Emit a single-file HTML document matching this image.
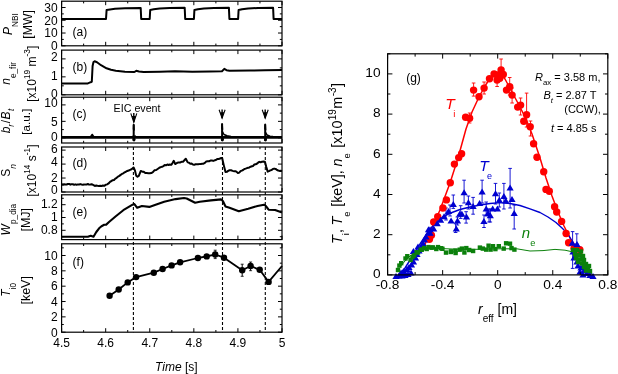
<!DOCTYPE html><html><head><meta charset="utf-8"><style>html,body{margin:0;padding:0;background:#fff;width:618px;height:374px;overflow:hidden}svg{display:block;font-family:"Liberation Sans", sans-serif;will-change:transform}</style></head><body>
<svg width="618" height="374" viewBox="0 0 618 374">
<path d="M61.60,19.00 L106.00,19.00 L106.60,10.00 L110.00,9.40 L115.00,8.80 L125.00,8.30 L140.70,8.00 L141.20,19.00 L149.70,19.00 L150.20,10.00 L153.70,9.30 L159.70,8.50 L169.70,8.00 L184.70,7.80 L185.20,19.00 L193.90,19.00 L194.40,10.00 L197.90,9.30 L203.90,8.50 L213.90,8.00 L228.90,7.80 L229.40,19.00 L238.10,19.00 L238.60,10.00 L242.10,9.30 L248.10,8.50 L258.10,8.00 L273.10,7.80 L273.60,19.00 L282.00,19.00" fill="none" stroke="#000" stroke-width="2.0" stroke-linejoin="round" />
<path d="M61.60,83.40 L87.90,83.40 L90.70,82.20 L91.80,81.80 L92.60,66.00 L93.50,62.00 L94.60,61.30 L97.00,62.20 L101.00,65.20 L106.50,68.30 L111.00,69.80 L115.80,70.70 L125.00,71.80 L134.40,72.00 L136.30,70.80 L139.00,71.40 L143.70,72.00 L160.00,71.80 L175.00,71.30 L192.30,71.80 L210.00,71.40 L222.00,71.20 L224.30,68.90 L226.50,70.20 L229.50,70.70 L250.00,70.60 L265.00,70.20 L282.00,70.00" fill="none" stroke="#000" stroke-width="2.0" stroke-linejoin="round" />
<path d="M61.60,137.35 L282.00,137.35" fill="none" stroke="#000" stroke-width="2.7" stroke-linejoin="round" />
<path d="M133.70,124.50 L133.70,141.00" fill="none" stroke="#000" stroke-width="2.0" stroke-linejoin="round" />
<ellipse cx="134.00" cy="139.3" rx="1.5" ry="2.3" fill="#000"/>
<path d="M133.50,129.50 L133.70,124.50 L134.10,130.50" fill="none" stroke="#000" stroke-width="1.6" stroke-linejoin="round" />
<path d="M222.10,123.70 L222.10,141.00" fill="none" stroke="#000" stroke-width="2.0" stroke-linejoin="round" />
<ellipse cx="222.40" cy="139.3" rx="1.5" ry="2.3" fill="#000"/>
<path d="M221.90,128.70 L222.10,123.70 L222.50,129.70" fill="none" stroke="#000" stroke-width="1.6" stroke-linejoin="round" />
<path d="M265.20,124.30 L265.20,141.00" fill="none" stroke="#000" stroke-width="2.0" stroke-linejoin="round" />
<ellipse cx="265.50" cy="139.3" rx="1.5" ry="2.3" fill="#000"/>
<path d="M265.00,129.30 L265.20,124.30 L265.60,130.30" fill="none" stroke="#000" stroke-width="1.6" stroke-linejoin="round" />
<path d="M222.10,131.00 L224.00,134.50 L227.00,135.80 L231.00,136.50 L234.00,136.80" fill="none" stroke="#000" stroke-width="1.5" stroke-linejoin="round" />
<path d="M265.20,132.00 L267.00,135.00 L270.00,136.20 L273.00,136.50" fill="none" stroke="#000" stroke-width="1.5" stroke-linejoin="round" />
<path d="M132.50,136.20 L136.00,136.20" fill="none" stroke="#000" stroke-width="1.5" stroke-linejoin="round" />
<path d="M90.30,137.30 L92.20,134.50 L94.10,137.30" fill="none" stroke="#000" stroke-width="1.6" stroke-linejoin="round" />
<path d="M130.80,113.40 L133.80,122.30 L136.80,113.40" fill="none" stroke="#000" stroke-width="1.1"/>
<path d="M131.80,116.00 L135.80,116.00 L133.80,122.30 Z" fill="#000"/>
<line x1="133.80" y1="113.10" x2="133.80" y2="122.30" stroke="#000" stroke-width="1.4" />
<path d="M219.10,109.70 L222.10,118.20 L225.10,109.70" fill="none" stroke="#000" stroke-width="1.1"/>
<path d="M220.10,112.30 L224.10,112.30 L222.10,118.20 Z" fill="#000"/>
<line x1="222.10" y1="109.40" x2="222.10" y2="118.20" stroke="#000" stroke-width="1.4" />
<path d="M262.20,109.70 L265.20,118.20 L268.20,109.70" fill="none" stroke="#000" stroke-width="1.1"/>
<path d="M263.20,112.30 L267.20,112.30 L265.20,118.20 Z" fill="#000"/>
<line x1="265.20" y1="109.40" x2="265.20" y2="118.20" stroke="#000" stroke-width="1.4" />
<text x="113.60" y="111.80" font-size="10.7" text-anchor="start" >EIC event</text>
<path d="M61.60,184.16 L62.85,184.44 L64.10,184.28 L65.35,184.49 L66.60,184.51 L67.85,184.01 L69.10,183.96 L70.35,184.70 L71.60,184.18 L72.85,184.16 L74.10,184.85 L75.35,184.37 L76.60,184.70 L77.85,184.38 L79.10,184.53 L80.35,184.09 L81.60,184.52 L82.85,184.73 L84.10,184.42 L85.35,184.62 L86.60,184.55 L87.85,184.01 L89.10,184.63 L90.35,184.48 L91.60,184.22 L93.50,185.18 L94.85,185.93 L96.20,185.58 L97.55,185.80 L98.90,185.94 L100.25,185.79 L101.60,185.98 L102.95,185.51 L104.30,185.87 L105.72,184.73 L107.15,184.34 L108.58,183.47 L110.00,181.94 L111.33,181.06 L112.67,180.21 L114.00,179.97 L115.33,178.58 L116.67,177.83 L118.00,176.62 L119.32,175.91 L120.63,174.90 L121.95,173.97 L123.27,173.28 L124.58,172.38 L125.90,171.76 L127.27,170.93 L128.63,170.52 L130.00,169.82 L131.50,169.24 L133.00,168.10 L133.60,167.45 L135.00,170.70 L136.20,175.62 L137.50,176.72 L138.80,175.86 L140.80,170.96 L142.30,171.69 L143.80,171.84 L145.30,173.00 L146.80,173.10 L148.30,173.17 L149.80,173.31 L151.33,173.02 L152.87,172.14 L154.40,170.33 L156.20,170.02 L158.00,168.72 L159.35,167.74 L160.70,167.11 L162.05,166.79 L163.40,166.14 L164.70,165.09 L166.00,165.30 L167.30,164.49 L168.60,164.96 L169.90,164.48 L171.20,164.84 L172.50,163.08 L173.80,160.80 L175.30,164.05 L176.87,163.03 L178.43,162.42 L180.00,162.49 L181.50,161.83 L183.00,161.83 L184.40,160.27 L185.80,158.70 L187.70,162.39 L189.00,162.65 L190.30,163.75 L191.60,163.61 L192.90,164.55 L194.20,164.86 L195.53,164.26 L196.86,164.21 L198.19,164.13 L199.51,164.12 L200.84,163.94 L202.17,163.78 L203.50,163.71 L204.90,162.90 L206.30,161.41 L207.70,161.15 L209.10,161.23 L210.50,160.61 L211.90,160.49 L213.30,160.91 L214.70,160.32 L215.93,159.96 L217.17,159.09 L218.40,159.07 L219.63,158.84 L220.87,157.95 L222.10,158.10 L223.80,165.37 L225.50,172.10 L226.83,171.81 L228.17,170.87 L229.50,170.26 L231.07,170.27 L232.63,170.89 L234.20,171.21 L235.43,171.20 L236.67,171.87 L237.90,173.06 L239.20,172.58 L240.50,171.20 L241.80,170.64 L243.10,170.02 L244.40,169.04 L245.65,168.61 L246.90,168.10 L248.15,167.68 L249.40,167.42 L250.65,166.69 L251.90,166.29 L253.13,165.93 L254.37,164.54 L255.60,164.31 L256.83,163.74 L258.07,162.65 L259.30,161.85 L260.70,162.27 L262.10,161.66 L263.50,161.52 L264.90,161.64 L266.30,167.03 L267.70,171.64 L269.00,171.10 L270.30,170.37 L271.60,170.08 L272.90,168.98 L274.20,168.62 L275.60,168.90 L277.00,169.95 L278.25,170.46 L279.50,170.90 L280.75,170.73 L282.00,171.00" fill="none" stroke="#000" stroke-width="2.0" stroke-linejoin="round" />
<path d="M61.60,236.70 L87.90,236.70 L90.70,235.70 L93.50,236.70 L96.30,232.00 L99.10,228.30 L101.50,226.20 L104.20,224.80 L106.20,224.60 L109.30,221.80 L115.80,216.20 L123.30,210.20 L132.60,204.70 L134.40,204.10 L137.20,207.80 L141.90,206.00 L149.30,206.90 L154.90,205.00 L164.20,201.70 L175.60,199.10 L184.00,198.00 L186.70,198.50 L195.10,202.80 L199.80,201.70 L210.90,200.40 L221.20,199.40 L223.00,201.30 L225.50,206.50 L229.50,207.80 L238.80,211.20 L248.20,208.70 L257.50,206.00 L264.00,204.70 L265.80,206.00 L268.60,209.70 L275.10,210.00 L282.00,212.50" fill="none" stroke="#000" stroke-width="2.1" stroke-linejoin="round" />
<path d="M109.60,295.80 L118.70,289.50 L127.70,282.40 L136.10,277.10 L153.80,272.70 L162.60,269.00 L171.60,265.40 L180.10,262.30 L197.90,258.00 L206.70,256.40 L215.20,254.50 L224.00,257.70 L242.20,270.30 L250.60,266.00 L259.70,269.80 L268.60,281.90 L282.00,266.00" fill="none" stroke="#000" stroke-width="1.8" stroke-linejoin="round" />
<circle cx="109.60" cy="295.80" r="3.2" fill="#000"/>
<circle cx="118.70" cy="289.50" r="3.2" fill="#000"/>
<circle cx="127.70" cy="282.40" r="3.2" fill="#000"/>
<circle cx="136.10" cy="277.10" r="3.2" fill="#000"/>
<circle cx="153.80" cy="272.70" r="3.2" fill="#000"/>
<circle cx="162.60" cy="269.00" r="3.2" fill="#000"/>
<circle cx="171.60" cy="265.40" r="3.2" fill="#000"/>
<circle cx="180.10" cy="262.30" r="3.2" fill="#000"/>
<circle cx="197.90" cy="258.00" r="3.2" fill="#000"/>
<circle cx="206.70" cy="256.40" r="3.2" fill="#000"/>
<circle cx="215.20" cy="254.50" r="3.2" fill="#000"/>
<circle cx="224.00" cy="257.70" r="3.2" fill="#000"/>
<circle cx="242.20" cy="270.30" r="3.2" fill="#000"/>
<circle cx="250.60" cy="266.00" r="3.2" fill="#000"/>
<circle cx="259.70" cy="269.80" r="3.2" fill="#000"/>
<circle cx="268.60" cy="281.90" r="3.2" fill="#000"/>
<line x1="215.20" y1="250.20" x2="215.20" y2="258.60" stroke="#000" stroke-width="1.0" />
<line x1="213.70" y1="250.20" x2="216.70" y2="250.20" stroke="#000" stroke-width="0.8" />
<line x1="213.70" y1="258.60" x2="216.70" y2="258.60" stroke="#000" stroke-width="0.8" />
<line x1="242.20" y1="264.20" x2="242.20" y2="276.30" stroke="#000" stroke-width="1.0" />
<line x1="240.70" y1="264.20" x2="243.70" y2="264.20" stroke="#000" stroke-width="0.8" />
<line x1="240.70" y1="276.30" x2="243.70" y2="276.30" stroke="#000" stroke-width="0.8" />
<line x1="250.60" y1="262.00" x2="250.60" y2="270.70" stroke="#000" stroke-width="1.0" />
<line x1="249.10" y1="262.00" x2="252.10" y2="262.00" stroke="#000" stroke-width="0.8" />
<line x1="249.10" y1="270.70" x2="252.10" y2="270.70" stroke="#000" stroke-width="0.8" />
<line x1="133.40" y1="147.00" x2="133.40" y2="332.20" stroke="#000" stroke-width="1.1" stroke-dasharray="3,2"/>
<line x1="222.50" y1="147.00" x2="222.50" y2="332.20" stroke="#000" stroke-width="1.1" stroke-dasharray="3,2"/>
<line x1="265.30" y1="147.00" x2="265.30" y2="332.20" stroke="#000" stroke-width="1.1" stroke-dasharray="3,2"/>
<rect x="61.60" y="1.20" width="220.40" height="44.60" fill="none" stroke="#000" stroke-width="1.2"/>
<line x1="61.60" y1="45.80" x2="65.60" y2="45.80" stroke="#000" stroke-width="1.0" />
<line x1="282.00" y1="45.80" x2="278.00" y2="45.80" stroke="#000" stroke-width="1.0" />
<line x1="61.60" y1="39.41" x2="63.80" y2="39.41" stroke="#000" stroke-width="1.0" />
<line x1="282.00" y1="39.41" x2="279.80" y2="39.41" stroke="#000" stroke-width="1.0" />
<line x1="61.60" y1="33.03" x2="65.60" y2="33.03" stroke="#000" stroke-width="1.0" />
<line x1="282.00" y1="33.03" x2="278.00" y2="33.03" stroke="#000" stroke-width="1.0" />
<line x1="61.60" y1="26.64" x2="63.80" y2="26.64" stroke="#000" stroke-width="1.0" />
<line x1="282.00" y1="26.64" x2="279.80" y2="26.64" stroke="#000" stroke-width="1.0" />
<line x1="61.60" y1="20.26" x2="65.60" y2="20.26" stroke="#000" stroke-width="1.0" />
<line x1="282.00" y1="20.26" x2="278.00" y2="20.26" stroke="#000" stroke-width="1.0" />
<line x1="61.60" y1="13.88" x2="63.80" y2="13.88" stroke="#000" stroke-width="1.0" />
<line x1="282.00" y1="13.88" x2="279.80" y2="13.88" stroke="#000" stroke-width="1.0" />
<line x1="61.60" y1="7.49" x2="65.60" y2="7.49" stroke="#000" stroke-width="1.0" />
<line x1="282.00" y1="7.49" x2="278.00" y2="7.49" stroke="#000" stroke-width="1.0" />
<line x1="61.60" y1="45.80" x2="61.60" y2="41.80" stroke="#000" stroke-width="1.0" />
<line x1="61.60" y1="1.20" x2="61.60" y2="5.20" stroke="#000" stroke-width="1.0" />
<line x1="83.64" y1="45.80" x2="83.64" y2="43.60" stroke="#000" stroke-width="1.0" />
<line x1="83.64" y1="1.20" x2="83.64" y2="3.40" stroke="#000" stroke-width="1.0" />
<line x1="105.68" y1="45.80" x2="105.68" y2="41.80" stroke="#000" stroke-width="1.0" />
<line x1="105.68" y1="1.20" x2="105.68" y2="5.20" stroke="#000" stroke-width="1.0" />
<line x1="127.72" y1="45.80" x2="127.72" y2="43.60" stroke="#000" stroke-width="1.0" />
<line x1="127.72" y1="1.20" x2="127.72" y2="3.40" stroke="#000" stroke-width="1.0" />
<line x1="149.76" y1="45.80" x2="149.76" y2="41.80" stroke="#000" stroke-width="1.0" />
<line x1="149.76" y1="1.20" x2="149.76" y2="5.20" stroke="#000" stroke-width="1.0" />
<line x1="171.80" y1="45.80" x2="171.80" y2="43.60" stroke="#000" stroke-width="1.0" />
<line x1="171.80" y1="1.20" x2="171.80" y2="3.40" stroke="#000" stroke-width="1.0" />
<line x1="193.84" y1="45.80" x2="193.84" y2="41.80" stroke="#000" stroke-width="1.0" />
<line x1="193.84" y1="1.20" x2="193.84" y2="5.20" stroke="#000" stroke-width="1.0" />
<line x1="215.88" y1="45.80" x2="215.88" y2="43.60" stroke="#000" stroke-width="1.0" />
<line x1="215.88" y1="1.20" x2="215.88" y2="3.40" stroke="#000" stroke-width="1.0" />
<line x1="237.92" y1="45.80" x2="237.92" y2="41.80" stroke="#000" stroke-width="1.0" />
<line x1="237.92" y1="1.20" x2="237.92" y2="5.20" stroke="#000" stroke-width="1.0" />
<line x1="259.96" y1="45.80" x2="259.96" y2="43.60" stroke="#000" stroke-width="1.0" />
<line x1="259.96" y1="1.20" x2="259.96" y2="3.40" stroke="#000" stroke-width="1.0" />
<line x1="282.00" y1="45.80" x2="282.00" y2="41.80" stroke="#000" stroke-width="1.0" />
<line x1="282.00" y1="1.20" x2="282.00" y2="5.20" stroke="#000" stroke-width="1.0" />
<text x="57.60" y="50.10" font-size="12" text-anchor="end" >0</text>
<text x="57.60" y="37.33" font-size="12" text-anchor="end" >10</text>
<text x="57.60" y="24.56" font-size="12" text-anchor="end" >20</text>
<text x="57.60" y="11.79" font-size="12" text-anchor="end" >30</text>
<rect x="61.60" y="50.10" width="220.40" height="44.70" fill="none" stroke="#000" stroke-width="1.2"/>
<line x1="61.60" y1="94.80" x2="65.60" y2="94.80" stroke="#000" stroke-width="1.0" />
<line x1="282.00" y1="94.80" x2="278.00" y2="94.80" stroke="#000" stroke-width="1.0" />
<line x1="61.60" y1="85.83" x2="63.80" y2="85.83" stroke="#000" stroke-width="1.0" />
<line x1="282.00" y1="85.83" x2="279.80" y2="85.83" stroke="#000" stroke-width="1.0" />
<line x1="61.60" y1="76.85" x2="65.60" y2="76.85" stroke="#000" stroke-width="1.0" />
<line x1="282.00" y1="76.85" x2="278.00" y2="76.85" stroke="#000" stroke-width="1.0" />
<line x1="61.60" y1="67.88" x2="63.80" y2="67.88" stroke="#000" stroke-width="1.0" />
<line x1="282.00" y1="67.88" x2="279.80" y2="67.88" stroke="#000" stroke-width="1.0" />
<line x1="61.60" y1="58.90" x2="65.60" y2="58.90" stroke="#000" stroke-width="1.0" />
<line x1="282.00" y1="58.90" x2="278.00" y2="58.90" stroke="#000" stroke-width="1.0" />
<line x1="61.60" y1="94.80" x2="61.60" y2="90.80" stroke="#000" stroke-width="1.0" />
<line x1="61.60" y1="50.10" x2="61.60" y2="54.10" stroke="#000" stroke-width="1.0" />
<line x1="83.64" y1="94.80" x2="83.64" y2="92.60" stroke="#000" stroke-width="1.0" />
<line x1="83.64" y1="50.10" x2="83.64" y2="52.30" stroke="#000" stroke-width="1.0" />
<line x1="105.68" y1="94.80" x2="105.68" y2="90.80" stroke="#000" stroke-width="1.0" />
<line x1="105.68" y1="50.10" x2="105.68" y2="54.10" stroke="#000" stroke-width="1.0" />
<line x1="127.72" y1="94.80" x2="127.72" y2="92.60" stroke="#000" stroke-width="1.0" />
<line x1="127.72" y1="50.10" x2="127.72" y2="52.30" stroke="#000" stroke-width="1.0" />
<line x1="149.76" y1="94.80" x2="149.76" y2="90.80" stroke="#000" stroke-width="1.0" />
<line x1="149.76" y1="50.10" x2="149.76" y2="54.10" stroke="#000" stroke-width="1.0" />
<line x1="171.80" y1="94.80" x2="171.80" y2="92.60" stroke="#000" stroke-width="1.0" />
<line x1="171.80" y1="50.10" x2="171.80" y2="52.30" stroke="#000" stroke-width="1.0" />
<line x1="193.84" y1="94.80" x2="193.84" y2="90.80" stroke="#000" stroke-width="1.0" />
<line x1="193.84" y1="50.10" x2="193.84" y2="54.10" stroke="#000" stroke-width="1.0" />
<line x1="215.88" y1="94.80" x2="215.88" y2="92.60" stroke="#000" stroke-width="1.0" />
<line x1="215.88" y1="50.10" x2="215.88" y2="52.30" stroke="#000" stroke-width="1.0" />
<line x1="237.92" y1="94.80" x2="237.92" y2="90.80" stroke="#000" stroke-width="1.0" />
<line x1="237.92" y1="50.10" x2="237.92" y2="54.10" stroke="#000" stroke-width="1.0" />
<line x1="259.96" y1="94.80" x2="259.96" y2="92.60" stroke="#000" stroke-width="1.0" />
<line x1="259.96" y1="50.10" x2="259.96" y2="52.30" stroke="#000" stroke-width="1.0" />
<line x1="282.00" y1="94.80" x2="282.00" y2="90.80" stroke="#000" stroke-width="1.0" />
<line x1="282.00" y1="50.10" x2="282.00" y2="54.10" stroke="#000" stroke-width="1.0" />
<text x="57.60" y="97.50" font-size="12" text-anchor="end" >0</text>
<text x="57.60" y="79.85" font-size="12" text-anchor="end" >1</text>
<text x="57.60" y="60.70" font-size="12" text-anchor="end" >2</text>
<rect x="61.60" y="97.20" width="220.40" height="45.80" fill="none" stroke="#000" stroke-width="1.2"/>
<line x1="61.60" y1="137.80" x2="65.60" y2="137.80" stroke="#000" stroke-width="1.0" />
<line x1="282.00" y1="137.80" x2="278.00" y2="137.80" stroke="#000" stroke-width="1.0" />
<line x1="61.60" y1="129.58" x2="63.80" y2="129.58" stroke="#000" stroke-width="1.0" />
<line x1="282.00" y1="129.58" x2="279.80" y2="129.58" stroke="#000" stroke-width="1.0" />
<line x1="61.60" y1="121.35" x2="65.60" y2="121.35" stroke="#000" stroke-width="1.0" />
<line x1="282.00" y1="121.35" x2="278.00" y2="121.35" stroke="#000" stroke-width="1.0" />
<line x1="61.60" y1="113.13" x2="63.80" y2="113.13" stroke="#000" stroke-width="1.0" />
<line x1="282.00" y1="113.13" x2="279.80" y2="113.13" stroke="#000" stroke-width="1.0" />
<line x1="61.60" y1="104.90" x2="65.60" y2="104.90" stroke="#000" stroke-width="1.0" />
<line x1="282.00" y1="104.90" x2="278.00" y2="104.90" stroke="#000" stroke-width="1.0" />
<line x1="61.60" y1="143.00" x2="61.60" y2="139.00" stroke="#000" stroke-width="1.0" />
<line x1="61.60" y1="97.20" x2="61.60" y2="101.20" stroke="#000" stroke-width="1.0" />
<line x1="83.64" y1="143.00" x2="83.64" y2="140.80" stroke="#000" stroke-width="1.0" />
<line x1="83.64" y1="97.20" x2="83.64" y2="99.40" stroke="#000" stroke-width="1.0" />
<line x1="105.68" y1="143.00" x2="105.68" y2="139.00" stroke="#000" stroke-width="1.0" />
<line x1="105.68" y1="97.20" x2="105.68" y2="101.20" stroke="#000" stroke-width="1.0" />
<line x1="127.72" y1="143.00" x2="127.72" y2="140.80" stroke="#000" stroke-width="1.0" />
<line x1="127.72" y1="97.20" x2="127.72" y2="99.40" stroke="#000" stroke-width="1.0" />
<line x1="149.76" y1="143.00" x2="149.76" y2="139.00" stroke="#000" stroke-width="1.0" />
<line x1="149.76" y1="97.20" x2="149.76" y2="101.20" stroke="#000" stroke-width="1.0" />
<line x1="171.80" y1="143.00" x2="171.80" y2="140.80" stroke="#000" stroke-width="1.0" />
<line x1="171.80" y1="97.20" x2="171.80" y2="99.40" stroke="#000" stroke-width="1.0" />
<line x1="193.84" y1="143.00" x2="193.84" y2="139.00" stroke="#000" stroke-width="1.0" />
<line x1="193.84" y1="97.20" x2="193.84" y2="101.20" stroke="#000" stroke-width="1.0" />
<line x1="215.88" y1="143.00" x2="215.88" y2="140.80" stroke="#000" stroke-width="1.0" />
<line x1="215.88" y1="97.20" x2="215.88" y2="99.40" stroke="#000" stroke-width="1.0" />
<line x1="237.92" y1="143.00" x2="237.92" y2="139.00" stroke="#000" stroke-width="1.0" />
<line x1="237.92" y1="97.20" x2="237.92" y2="101.20" stroke="#000" stroke-width="1.0" />
<line x1="259.96" y1="143.00" x2="259.96" y2="140.80" stroke="#000" stroke-width="1.0" />
<line x1="259.96" y1="97.20" x2="259.96" y2="99.40" stroke="#000" stroke-width="1.0" />
<line x1="282.00" y1="143.00" x2="282.00" y2="139.00" stroke="#000" stroke-width="1.0" />
<line x1="282.00" y1="97.20" x2="282.00" y2="101.20" stroke="#000" stroke-width="1.0" />
<text x="57.60" y="141.10" font-size="12" text-anchor="end" >0</text>
<text x="57.60" y="126.25" font-size="12" text-anchor="end" >5</text>
<text x="57.60" y="107.40" font-size="12" text-anchor="end" >10</text>
<rect x="61.60" y="147.00" width="220.40" height="45.00" fill="none" stroke="#000" stroke-width="1.2"/>
<line x1="61.60" y1="192.00" x2="65.60" y2="192.00" stroke="#000" stroke-width="1.0" />
<line x1="282.00" y1="192.00" x2="278.00" y2="192.00" stroke="#000" stroke-width="1.0" />
<line x1="61.60" y1="185.02" x2="63.80" y2="185.02" stroke="#000" stroke-width="1.0" />
<line x1="282.00" y1="185.02" x2="279.80" y2="185.02" stroke="#000" stroke-width="1.0" />
<line x1="61.60" y1="178.04" x2="65.60" y2="178.04" stroke="#000" stroke-width="1.0" />
<line x1="282.00" y1="178.04" x2="278.00" y2="178.04" stroke="#000" stroke-width="1.0" />
<line x1="61.60" y1="171.06" x2="63.80" y2="171.06" stroke="#000" stroke-width="1.0" />
<line x1="282.00" y1="171.06" x2="279.80" y2="171.06" stroke="#000" stroke-width="1.0" />
<line x1="61.60" y1="164.08" x2="65.60" y2="164.08" stroke="#000" stroke-width="1.0" />
<line x1="282.00" y1="164.08" x2="278.00" y2="164.08" stroke="#000" stroke-width="1.0" />
<line x1="61.60" y1="157.10" x2="63.80" y2="157.10" stroke="#000" stroke-width="1.0" />
<line x1="282.00" y1="157.10" x2="279.80" y2="157.10" stroke="#000" stroke-width="1.0" />
<line x1="61.60" y1="150.12" x2="65.60" y2="150.12" stroke="#000" stroke-width="1.0" />
<line x1="282.00" y1="150.12" x2="278.00" y2="150.12" stroke="#000" stroke-width="1.0" />
<line x1="61.60" y1="192.00" x2="61.60" y2="188.00" stroke="#000" stroke-width="1.0" />
<line x1="61.60" y1="147.00" x2="61.60" y2="151.00" stroke="#000" stroke-width="1.0" />
<line x1="83.64" y1="192.00" x2="83.64" y2="189.80" stroke="#000" stroke-width="1.0" />
<line x1="83.64" y1="147.00" x2="83.64" y2="149.20" stroke="#000" stroke-width="1.0" />
<line x1="105.68" y1="192.00" x2="105.68" y2="188.00" stroke="#000" stroke-width="1.0" />
<line x1="105.68" y1="147.00" x2="105.68" y2="151.00" stroke="#000" stroke-width="1.0" />
<line x1="127.72" y1="192.00" x2="127.72" y2="189.80" stroke="#000" stroke-width="1.0" />
<line x1="127.72" y1="147.00" x2="127.72" y2="149.20" stroke="#000" stroke-width="1.0" />
<line x1="149.76" y1="192.00" x2="149.76" y2="188.00" stroke="#000" stroke-width="1.0" />
<line x1="149.76" y1="147.00" x2="149.76" y2="151.00" stroke="#000" stroke-width="1.0" />
<line x1="171.80" y1="192.00" x2="171.80" y2="189.80" stroke="#000" stroke-width="1.0" />
<line x1="171.80" y1="147.00" x2="171.80" y2="149.20" stroke="#000" stroke-width="1.0" />
<line x1="193.84" y1="192.00" x2="193.84" y2="188.00" stroke="#000" stroke-width="1.0" />
<line x1="193.84" y1="147.00" x2="193.84" y2="151.00" stroke="#000" stroke-width="1.0" />
<line x1="215.88" y1="192.00" x2="215.88" y2="189.80" stroke="#000" stroke-width="1.0" />
<line x1="215.88" y1="147.00" x2="215.88" y2="149.20" stroke="#000" stroke-width="1.0" />
<line x1="237.92" y1="192.00" x2="237.92" y2="188.00" stroke="#000" stroke-width="1.0" />
<line x1="237.92" y1="147.00" x2="237.92" y2="151.00" stroke="#000" stroke-width="1.0" />
<line x1="259.96" y1="192.00" x2="259.96" y2="189.80" stroke="#000" stroke-width="1.0" />
<line x1="259.96" y1="147.00" x2="259.96" y2="149.20" stroke="#000" stroke-width="1.0" />
<line x1="282.00" y1="192.00" x2="282.00" y2="188.00" stroke="#000" stroke-width="1.0" />
<line x1="282.00" y1="147.00" x2="282.00" y2="151.00" stroke="#000" stroke-width="1.0" />
<text x="57.60" y="194.40" font-size="12" text-anchor="end" >0</text>
<text x="57.60" y="181.64" font-size="12" text-anchor="end" >2</text>
<text x="57.60" y="166.38" font-size="12" text-anchor="end" >4</text>
<text x="57.60" y="153.02" font-size="12" text-anchor="end" >6</text>
<rect x="61.60" y="194.80" width="220.40" height="44.80" fill="none" stroke="#000" stroke-width="1.2"/>
<line x1="61.60" y1="236.70" x2="63.80" y2="236.70" stroke="#000" stroke-width="1.0" />
<line x1="282.00" y1="236.70" x2="279.80" y2="236.70" stroke="#000" stroke-width="1.0" />
<line x1="61.60" y1="230.30" x2="65.60" y2="230.30" stroke="#000" stroke-width="1.0" />
<line x1="282.00" y1="230.30" x2="278.00" y2="230.30" stroke="#000" stroke-width="1.0" />
<line x1="61.60" y1="223.90" x2="63.80" y2="223.90" stroke="#000" stroke-width="1.0" />
<line x1="282.00" y1="223.90" x2="279.80" y2="223.90" stroke="#000" stroke-width="1.0" />
<line x1="61.60" y1="217.50" x2="65.60" y2="217.50" stroke="#000" stroke-width="1.0" />
<line x1="282.00" y1="217.50" x2="278.00" y2="217.50" stroke="#000" stroke-width="1.0" />
<line x1="61.60" y1="211.10" x2="63.80" y2="211.10" stroke="#000" stroke-width="1.0" />
<line x1="282.00" y1="211.10" x2="279.80" y2="211.10" stroke="#000" stroke-width="1.0" />
<line x1="61.60" y1="204.70" x2="65.60" y2="204.70" stroke="#000" stroke-width="1.0" />
<line x1="282.00" y1="204.70" x2="278.00" y2="204.70" stroke="#000" stroke-width="1.0" />
<line x1="61.60" y1="198.30" x2="63.80" y2="198.30" stroke="#000" stroke-width="1.0" />
<line x1="282.00" y1="198.30" x2="279.80" y2="198.30" stroke="#000" stroke-width="1.0" />
<line x1="61.60" y1="239.60" x2="61.60" y2="235.60" stroke="#000" stroke-width="1.0" />
<line x1="61.60" y1="194.80" x2="61.60" y2="198.80" stroke="#000" stroke-width="1.0" />
<line x1="83.64" y1="239.60" x2="83.64" y2="237.40" stroke="#000" stroke-width="1.0" />
<line x1="83.64" y1="194.80" x2="83.64" y2="197.00" stroke="#000" stroke-width="1.0" />
<line x1="105.68" y1="239.60" x2="105.68" y2="235.60" stroke="#000" stroke-width="1.0" />
<line x1="105.68" y1="194.80" x2="105.68" y2="198.80" stroke="#000" stroke-width="1.0" />
<line x1="127.72" y1="239.60" x2="127.72" y2="237.40" stroke="#000" stroke-width="1.0" />
<line x1="127.72" y1="194.80" x2="127.72" y2="197.00" stroke="#000" stroke-width="1.0" />
<line x1="149.76" y1="239.60" x2="149.76" y2="235.60" stroke="#000" stroke-width="1.0" />
<line x1="149.76" y1="194.80" x2="149.76" y2="198.80" stroke="#000" stroke-width="1.0" />
<line x1="171.80" y1="239.60" x2="171.80" y2="237.40" stroke="#000" stroke-width="1.0" />
<line x1="171.80" y1="194.80" x2="171.80" y2="197.00" stroke="#000" stroke-width="1.0" />
<line x1="193.84" y1="239.60" x2="193.84" y2="235.60" stroke="#000" stroke-width="1.0" />
<line x1="193.84" y1="194.80" x2="193.84" y2="198.80" stroke="#000" stroke-width="1.0" />
<line x1="215.88" y1="239.60" x2="215.88" y2="237.40" stroke="#000" stroke-width="1.0" />
<line x1="215.88" y1="194.80" x2="215.88" y2="197.00" stroke="#000" stroke-width="1.0" />
<line x1="237.92" y1="239.60" x2="237.92" y2="235.60" stroke="#000" stroke-width="1.0" />
<line x1="237.92" y1="194.80" x2="237.92" y2="198.80" stroke="#000" stroke-width="1.0" />
<line x1="259.96" y1="239.60" x2="259.96" y2="237.40" stroke="#000" stroke-width="1.0" />
<line x1="259.96" y1="194.80" x2="259.96" y2="197.00" stroke="#000" stroke-width="1.0" />
<line x1="282.00" y1="239.60" x2="282.00" y2="235.60" stroke="#000" stroke-width="1.0" />
<line x1="282.00" y1="194.80" x2="282.00" y2="198.80" stroke="#000" stroke-width="1.0" />
<text x="57.60" y="233.90" font-size="12" text-anchor="end" >0.8</text>
<text x="57.60" y="221.10" font-size="12" text-anchor="end" >1</text>
<text x="57.60" y="208.30" font-size="12" text-anchor="end" >1.2</text>
<rect x="61.60" y="243.80" width="220.40" height="88.40" fill="none" stroke="#000" stroke-width="1.2"/>
<line x1="61.60" y1="332.20" x2="65.60" y2="332.20" stroke="#000" stroke-width="1.0" />
<line x1="282.00" y1="332.20" x2="278.00" y2="332.20" stroke="#000" stroke-width="1.0" />
<line x1="61.60" y1="324.53" x2="63.80" y2="324.53" stroke="#000" stroke-width="1.0" />
<line x1="282.00" y1="324.53" x2="279.80" y2="324.53" stroke="#000" stroke-width="1.0" />
<line x1="61.60" y1="316.86" x2="65.60" y2="316.86" stroke="#000" stroke-width="1.0" />
<line x1="282.00" y1="316.86" x2="278.00" y2="316.86" stroke="#000" stroke-width="1.0" />
<line x1="61.60" y1="309.19" x2="63.80" y2="309.19" stroke="#000" stroke-width="1.0" />
<line x1="282.00" y1="309.19" x2="279.80" y2="309.19" stroke="#000" stroke-width="1.0" />
<line x1="61.60" y1="301.52" x2="65.60" y2="301.52" stroke="#000" stroke-width="1.0" />
<line x1="282.00" y1="301.52" x2="278.00" y2="301.52" stroke="#000" stroke-width="1.0" />
<line x1="61.60" y1="293.85" x2="63.80" y2="293.85" stroke="#000" stroke-width="1.0" />
<line x1="282.00" y1="293.85" x2="279.80" y2="293.85" stroke="#000" stroke-width="1.0" />
<line x1="61.60" y1="286.18" x2="65.60" y2="286.18" stroke="#000" stroke-width="1.0" />
<line x1="282.00" y1="286.18" x2="278.00" y2="286.18" stroke="#000" stroke-width="1.0" />
<line x1="61.60" y1="278.51" x2="63.80" y2="278.51" stroke="#000" stroke-width="1.0" />
<line x1="282.00" y1="278.51" x2="279.80" y2="278.51" stroke="#000" stroke-width="1.0" />
<line x1="61.60" y1="270.84" x2="65.60" y2="270.84" stroke="#000" stroke-width="1.0" />
<line x1="282.00" y1="270.84" x2="278.00" y2="270.84" stroke="#000" stroke-width="1.0" />
<line x1="61.60" y1="263.17" x2="63.80" y2="263.17" stroke="#000" stroke-width="1.0" />
<line x1="282.00" y1="263.17" x2="279.80" y2="263.17" stroke="#000" stroke-width="1.0" />
<line x1="61.60" y1="255.50" x2="65.60" y2="255.50" stroke="#000" stroke-width="1.0" />
<line x1="282.00" y1="255.50" x2="278.00" y2="255.50" stroke="#000" stroke-width="1.0" />
<line x1="61.60" y1="247.83" x2="63.80" y2="247.83" stroke="#000" stroke-width="1.0" />
<line x1="282.00" y1="247.83" x2="279.80" y2="247.83" stroke="#000" stroke-width="1.0" />
<line x1="61.60" y1="332.20" x2="61.60" y2="328.20" stroke="#000" stroke-width="1.0" />
<line x1="61.60" y1="243.80" x2="61.60" y2="247.80" stroke="#000" stroke-width="1.0" />
<line x1="83.64" y1="332.20" x2="83.64" y2="330.00" stroke="#000" stroke-width="1.0" />
<line x1="83.64" y1="243.80" x2="83.64" y2="246.00" stroke="#000" stroke-width="1.0" />
<line x1="105.68" y1="332.20" x2="105.68" y2="328.20" stroke="#000" stroke-width="1.0" />
<line x1="105.68" y1="243.80" x2="105.68" y2="247.80" stroke="#000" stroke-width="1.0" />
<line x1="127.72" y1="332.20" x2="127.72" y2="330.00" stroke="#000" stroke-width="1.0" />
<line x1="127.72" y1="243.80" x2="127.72" y2="246.00" stroke="#000" stroke-width="1.0" />
<line x1="149.76" y1="332.20" x2="149.76" y2="328.20" stroke="#000" stroke-width="1.0" />
<line x1="149.76" y1="243.80" x2="149.76" y2="247.80" stroke="#000" stroke-width="1.0" />
<line x1="171.80" y1="332.20" x2="171.80" y2="330.00" stroke="#000" stroke-width="1.0" />
<line x1="171.80" y1="243.80" x2="171.80" y2="246.00" stroke="#000" stroke-width="1.0" />
<line x1="193.84" y1="332.20" x2="193.84" y2="328.20" stroke="#000" stroke-width="1.0" />
<line x1="193.84" y1="243.80" x2="193.84" y2="247.80" stroke="#000" stroke-width="1.0" />
<line x1="215.88" y1="332.20" x2="215.88" y2="330.00" stroke="#000" stroke-width="1.0" />
<line x1="215.88" y1="243.80" x2="215.88" y2="246.00" stroke="#000" stroke-width="1.0" />
<line x1="237.92" y1="332.20" x2="237.92" y2="328.20" stroke="#000" stroke-width="1.0" />
<line x1="237.92" y1="243.80" x2="237.92" y2="247.80" stroke="#000" stroke-width="1.0" />
<line x1="259.96" y1="332.20" x2="259.96" y2="330.00" stroke="#000" stroke-width="1.0" />
<line x1="259.96" y1="243.80" x2="259.96" y2="246.00" stroke="#000" stroke-width="1.0" />
<line x1="282.00" y1="332.20" x2="282.00" y2="328.20" stroke="#000" stroke-width="1.0" />
<line x1="282.00" y1="243.80" x2="282.00" y2="247.80" stroke="#000" stroke-width="1.0" />
<text x="57.60" y="336.50" font-size="12" text-anchor="end" >0</text>
<text x="57.60" y="321.16" font-size="12" text-anchor="end" >2</text>
<text x="57.60" y="305.82" font-size="12" text-anchor="end" >4</text>
<text x="57.60" y="290.48" font-size="12" text-anchor="end" >6</text>
<text x="57.60" y="275.14" font-size="12" text-anchor="end" >8</text>
<text x="57.60" y="259.80" font-size="12" text-anchor="end" >10</text>
<text x="72.60" y="35.70" font-size="12" text-anchor="start" >(a)</text>
<text x="72.60" y="70.60" font-size="12" text-anchor="start" >(b)</text>
<text x="72.60" y="118.20" font-size="12" text-anchor="start" >(c)</text>
<text x="72.60" y="166.90" font-size="12" text-anchor="start" >(d)</text>
<text x="72.60" y="215.50" font-size="12" text-anchor="start" >(e)</text>
<text x="72.60" y="265.80" font-size="12" text-anchor="start" >(f)</text>
<text x="61.60" y="346.80" font-size="12" text-anchor="middle" >4.5</text>
<text x="105.68" y="346.80" font-size="12" text-anchor="middle" >4.6</text>
<text x="149.76" y="346.80" font-size="12" text-anchor="middle" >4.7</text>
<text x="193.84" y="346.80" font-size="12" text-anchor="middle" >4.8</text>
<text x="237.92" y="346.80" font-size="12" text-anchor="middle" >4.9</text>
<text x="282.00" y="346.80" font-size="12" text-anchor="middle" >5</text>
<text x="176.3" y="370.9" font-size="12" text-anchor="middle"><tspan font-style="italic">Time</tspan> [s]</text>
<text transform="translate(11.80,24.15) rotate(-90)" x="0" y="0" font-size="12" text-anchor="middle" ><tspan font-style="italic">P</tspan><tspan dy="5.9" font-size="8.3">NBI</tspan></text>
<text transform="translate(32.00,24.35) rotate(-90)" x="0" y="0" font-size="12.3" text-anchor="middle" >[MW]</text>
<text transform="translate(9.80,73.40) rotate(-90)" x="0" y="0" font-size="12" text-anchor="middle" ><tspan font-style="italic">n</tspan><tspan dy="6.1" font-size="8.3">e_fir</tspan></text>
<text transform="translate(36.30,73.75) rotate(-90)" x="0" y="0" font-size="12" text-anchor="middle" >[x10<tspan dy="-6" font-size="8.3">19</tspan><tspan dy="6"> m</tspan><tspan dy="-6" font-size="8.3">-3</tspan><tspan dy="6">]</tspan></text>
<text transform="translate(9.50,121.00) rotate(-90)" x="0" y="0" font-size="12" text-anchor="middle" ><tspan font-style="italic">b</tspan><tspan dy="4.5" font-size="8.3" font-style="italic">r</tspan><tspan dx="0.6" dy="-4.5">/</tspan><tspan dx="0.6" font-style="italic">B</tspan><tspan dx="0.4" dy="4.5" font-size="8.3" font-style="italic">t</tspan></text>
<text transform="translate(30.20,121.75) rotate(-90)" x="0" y="0" font-size="11.6" text-anchor="middle" >[a.u.]</text>
<text transform="translate(10.00,170.50) rotate(-90)" x="0" y="0" font-size="12" text-anchor="middle" >S<tspan dy="5.9" font-size="8.3" font-style="italic">n</tspan></text>
<text transform="translate(36.30,170.50) rotate(-90)" x="0" y="0" font-size="12" text-anchor="middle" >[x10<tspan dy="-6" font-size="8.3">14</tspan><tspan dy="6"> s</tspan><tspan dy="-6" font-size="8.3">-1</tspan><tspan dy="6">]</tspan></text>
<text transform="translate(10.20,219.60) rotate(-90)" x="0" y="0" font-size="12" text-anchor="middle" ><tspan font-style="italic">W</tspan><tspan dy="5.6" font-size="8.3">p_dia</tspan></text>
<text transform="translate(29.50,219.80) rotate(-90)" x="0" y="0" font-size="12.5" text-anchor="middle" >[MJ]</text>
<text transform="translate(9.60,289.80) rotate(-90)" x="0" y="0" font-size="12" text-anchor="middle" ><tspan font-style="italic">T</tspan><tspan dy="6.1" font-size="8.3">i0</tspan></text>
<text transform="translate(29.80,290.30) rotate(-90)" x="0" y="0" font-size="12.5" text-anchor="middle" >[keV]</text>
<path d="M424.00,247.00 L430.00,232.00 L440.00,210.00 L450.00,183.00 L458.00,158.00 L466.00,129.00 L472.00,112.00 L479.00,97.00 L485.00,86.00 L489.50,79.00 L494.00,74.00 L497.00,72.50 L500.00,73.00 L505.00,79.00 L512.00,92.00 L520.00,107.00 L526.00,119.00 L532.00,134.00 L540.00,158.00 L546.00,178.00 L552.00,196.00 L558.00,212.00 L564.00,226.00 L570.00,238.00 L576.00,247.00 L582.00,254.00" fill="none" stroke="#ff0000" stroke-width="1.5" stroke-linejoin="round" />
<path d="M399.00,274.00 L405.00,268.00 L412.00,257.00 L420.00,244.00 L428.00,232.00 L436.00,222.00 L444.00,216.00 L452.00,212.50 L460.00,209.50 L470.00,207.00 L480.00,205.00 L490.00,203.50 L500.00,202.60 L510.00,203.50 L520.00,205.50 L530.00,208.90 L540.00,212.50 L548.00,217.00 L556.00,222.50 L562.00,228.00 L568.00,234.00 L573.00,243.00 L578.00,252.00 L584.00,263.00 L590.00,274.00" fill="none" stroke="#0000d0" stroke-width="1.4" stroke-linejoin="round" />
<path d="M400.00,267.00 L405.00,261.00 L410.00,256.00 L416.00,252.00 L422.00,249.50 L430.00,248.50 L440.00,248.50 L460.00,249.30 L480.00,249.30 L500.00,248.80 L516.80,248.80 L530.00,251.00 L543.00,250.60 L555.00,249.40 L565.00,250.20 L571.00,251.50 L576.00,254.00 L582.00,261.00 L588.00,269.00 L592.00,274.00" fill="none" stroke="#0b800b" stroke-width="1.0" stroke-linejoin="round" />
<line x1="473.60" y1="83.00" x2="473.60" y2="96.10" stroke="#ff0000" stroke-width="0.9" />
<line x1="471.80" y1="83.00" x2="475.40" y2="83.00" stroke="#ff0000" stroke-width="0.9" />
<line x1="471.80" y1="96.10" x2="475.40" y2="96.10" stroke="#ff0000" stroke-width="0.9" />
<line x1="484.10" y1="82.00" x2="484.10" y2="94.00" stroke="#ff0000" stroke-width="0.9" />
<line x1="482.30" y1="82.00" x2="485.90" y2="82.00" stroke="#ff0000" stroke-width="0.9" />
<line x1="482.30" y1="94.00" x2="485.90" y2="94.00" stroke="#ff0000" stroke-width="0.9" />
<line x1="501.10" y1="59.00" x2="501.10" y2="78.00" stroke="#ff0000" stroke-width="0.9" />
<line x1="499.30" y1="59.00" x2="502.90" y2="59.00" stroke="#ff0000" stroke-width="0.9" />
<line x1="499.30" y1="78.00" x2="502.90" y2="78.00" stroke="#ff0000" stroke-width="0.9" />
<line x1="509.70" y1="77.50" x2="509.70" y2="95.00" stroke="#ff0000" stroke-width="0.9" />
<line x1="507.90" y1="77.50" x2="511.50" y2="77.50" stroke="#ff0000" stroke-width="0.9" />
<line x1="507.90" y1="95.00" x2="511.50" y2="95.00" stroke="#ff0000" stroke-width="0.9" />
<line x1="512.10" y1="88.00" x2="512.10" y2="103.00" stroke="#ff0000" stroke-width="0.9" />
<line x1="510.30" y1="88.00" x2="513.90" y2="88.00" stroke="#ff0000" stroke-width="0.9" />
<line x1="510.30" y1="103.00" x2="513.90" y2="103.00" stroke="#ff0000" stroke-width="0.9" />
<line x1="520.60" y1="98.00" x2="520.60" y2="115.00" stroke="#ff0000" stroke-width="0.9" />
<line x1="518.80" y1="98.00" x2="522.40" y2="98.00" stroke="#ff0000" stroke-width="0.9" />
<line x1="518.80" y1="115.00" x2="522.40" y2="115.00" stroke="#ff0000" stroke-width="0.9" />
<line x1="526.60" y1="93.10" x2="526.60" y2="127.00" stroke="#ff0000" stroke-width="0.9" />
<line x1="524.80" y1="93.10" x2="528.40" y2="93.10" stroke="#ff0000" stroke-width="0.9" />
<line x1="524.80" y1="127.00" x2="528.40" y2="127.00" stroke="#ff0000" stroke-width="0.9" />
<line x1="530.50" y1="121.00" x2="530.50" y2="136.00" stroke="#ff0000" stroke-width="0.9" />
<line x1="528.70" y1="121.00" x2="532.30" y2="121.00" stroke="#ff0000" stroke-width="0.9" />
<line x1="528.70" y1="136.00" x2="532.30" y2="136.00" stroke="#ff0000" stroke-width="0.9" />
<line x1="497.10" y1="74.00" x2="497.10" y2="86.50" stroke="#ff0000" stroke-width="0.9" />
<line x1="495.30" y1="74.00" x2="498.90" y2="74.00" stroke="#ff0000" stroke-width="0.9" />
<line x1="495.30" y1="86.50" x2="498.90" y2="86.50" stroke="#ff0000" stroke-width="0.9" />
<line x1="469.60" y1="113.00" x2="469.60" y2="123.00" stroke="#ff0000" stroke-width="0.9" />
<line x1="467.80" y1="113.00" x2="471.40" y2="113.00" stroke="#ff0000" stroke-width="0.9" />
<line x1="467.80" y1="123.00" x2="471.40" y2="123.00" stroke="#ff0000" stroke-width="0.9" />
<line x1="464.10" y1="180.20" x2="464.10" y2="203.00" stroke="#0000d0" stroke-width="0.9" />
<line x1="462.30" y1="180.20" x2="465.90" y2="180.20" stroke="#0000d0" stroke-width="0.9" />
<line x1="462.30" y1="203.00" x2="465.90" y2="203.00" stroke="#0000d0" stroke-width="0.9" />
<line x1="473.10" y1="197.40" x2="473.10" y2="214.20" stroke="#0000d0" stroke-width="0.9" />
<line x1="471.30" y1="197.40" x2="474.90" y2="197.40" stroke="#0000d0" stroke-width="0.9" />
<line x1="471.30" y1="214.20" x2="474.90" y2="214.20" stroke="#0000d0" stroke-width="0.9" />
<line x1="482.10" y1="180.20" x2="482.10" y2="203.00" stroke="#0000d0" stroke-width="0.9" />
<line x1="480.30" y1="180.20" x2="483.90" y2="180.20" stroke="#0000d0" stroke-width="0.9" />
<line x1="480.30" y1="203.00" x2="483.90" y2="203.00" stroke="#0000d0" stroke-width="0.9" />
<line x1="495.50" y1="183.40" x2="495.50" y2="204.00" stroke="#0000d0" stroke-width="0.9" />
<line x1="493.70" y1="183.40" x2="497.30" y2="183.40" stroke="#0000d0" stroke-width="0.9" />
<line x1="493.70" y1="204.00" x2="497.30" y2="204.00" stroke="#0000d0" stroke-width="0.9" />
<line x1="503.90" y1="183.40" x2="503.90" y2="209.00" stroke="#0000d0" stroke-width="0.9" />
<line x1="502.10" y1="183.40" x2="505.70" y2="183.40" stroke="#0000d0" stroke-width="0.9" />
<line x1="502.10" y1="209.00" x2="505.70" y2="209.00" stroke="#0000d0" stroke-width="0.9" />
<line x1="510.10" y1="168.40" x2="510.10" y2="208.00" stroke="#0000d0" stroke-width="0.9" />
<line x1="508.30" y1="168.40" x2="511.90" y2="168.40" stroke="#0000d0" stroke-width="0.9" />
<line x1="508.30" y1="208.00" x2="511.90" y2="208.00" stroke="#0000d0" stroke-width="0.9" />
<line x1="514.20" y1="205.00" x2="514.20" y2="229.00" stroke="#0000d0" stroke-width="0.9" />
<line x1="512.40" y1="205.00" x2="516.00" y2="205.00" stroke="#0000d0" stroke-width="0.9" />
<line x1="512.40" y1="229.00" x2="516.00" y2="229.00" stroke="#0000d0" stroke-width="0.9" />
<line x1="572.60" y1="231.60" x2="572.60" y2="268.40" stroke="#0000d0" stroke-width="0.9" />
<line x1="570.80" y1="231.60" x2="574.40" y2="231.60" stroke="#0000d0" stroke-width="0.9" />
<line x1="570.80" y1="268.40" x2="574.40" y2="268.40" stroke="#0000d0" stroke-width="0.9" />
<line x1="576.80" y1="233.80" x2="576.80" y2="244.00" stroke="#0000d0" stroke-width="0.9" />
<line x1="575.00" y1="233.80" x2="578.60" y2="233.80" stroke="#0000d0" stroke-width="0.9" />
<line x1="575.00" y1="244.00" x2="578.60" y2="244.00" stroke="#0000d0" stroke-width="0.9" />
<line x1="468.40" y1="196.00" x2="468.40" y2="209.00" stroke="#0000d0" stroke-width="0.9" />
<line x1="466.60" y1="196.00" x2="470.20" y2="196.00" stroke="#0000d0" stroke-width="0.9" />
<line x1="466.60" y1="209.00" x2="470.20" y2="209.00" stroke="#0000d0" stroke-width="0.9" />
<line x1="486.20" y1="202.00" x2="486.20" y2="216.00" stroke="#0000d0" stroke-width="0.9" />
<line x1="484.40" y1="202.00" x2="488.00" y2="202.00" stroke="#0000d0" stroke-width="0.9" />
<line x1="484.40" y1="216.00" x2="488.00" y2="216.00" stroke="#0000d0" stroke-width="0.9" />
<line x1="453.30" y1="195.00" x2="453.30" y2="208.40" stroke="#0000d0" stroke-width="0.9" />
<line x1="451.50" y1="195.00" x2="455.10" y2="195.00" stroke="#0000d0" stroke-width="0.9" />
<line x1="451.50" y1="208.40" x2="455.10" y2="208.40" stroke="#0000d0" stroke-width="0.9" />
<line x1="460.70" y1="205.70" x2="460.70" y2="218.40" stroke="#0000d0" stroke-width="0.9" />
<line x1="458.90" y1="205.70" x2="462.50" y2="205.70" stroke="#0000d0" stroke-width="0.9" />
<line x1="458.90" y1="218.40" x2="462.50" y2="218.40" stroke="#0000d0" stroke-width="0.9" />
<line x1="455.60" y1="223.80" x2="455.60" y2="232.50" stroke="#0000d0" stroke-width="0.9" />
<line x1="453.80" y1="223.80" x2="457.40" y2="223.80" stroke="#0000d0" stroke-width="0.9" />
<line x1="453.80" y1="232.50" x2="457.40" y2="232.50" stroke="#0000d0" stroke-width="0.9" />
<line x1="490.30" y1="209.00" x2="490.30" y2="222.00" stroke="#0000d0" stroke-width="0.9" />
<line x1="488.50" y1="209.00" x2="492.10" y2="209.00" stroke="#0000d0" stroke-width="0.9" />
<line x1="488.50" y1="222.00" x2="492.10" y2="222.00" stroke="#0000d0" stroke-width="0.9" />
<line x1="499.30" y1="193.00" x2="499.30" y2="207.00" stroke="#0000d0" stroke-width="0.9" />
<line x1="497.50" y1="193.00" x2="501.10" y2="193.00" stroke="#0000d0" stroke-width="0.9" />
<line x1="497.50" y1="207.00" x2="501.10" y2="207.00" stroke="#0000d0" stroke-width="0.9" />
<line x1="466.10" y1="211.70" x2="466.10" y2="223.10" stroke="#0000d0" stroke-width="0.9" />
<line x1="464.30" y1="211.70" x2="467.90" y2="211.70" stroke="#0000d0" stroke-width="0.9" />
<line x1="464.30" y1="223.10" x2="467.90" y2="223.10" stroke="#0000d0" stroke-width="0.9" />
<line x1="457.40" y1="217.00" x2="457.40" y2="225.00" stroke="#0000d0" stroke-width="0.9" />
<line x1="455.60" y1="217.00" x2="459.20" y2="217.00" stroke="#0000d0" stroke-width="0.9" />
<line x1="455.60" y1="225.00" x2="459.20" y2="225.00" stroke="#0000d0" stroke-width="0.9" />
<line x1="450.00" y1="205.00" x2="450.00" y2="216.00" stroke="#0000d0" stroke-width="0.9" />
<line x1="448.20" y1="205.00" x2="451.80" y2="205.00" stroke="#0000d0" stroke-width="0.9" />
<line x1="448.20" y1="216.00" x2="451.80" y2="216.00" stroke="#0000d0" stroke-width="0.9" />
<line x1="446.00" y1="208.00" x2="446.00" y2="220.00" stroke="#0000d0" stroke-width="0.9" />
<line x1="444.20" y1="208.00" x2="447.80" y2="208.00" stroke="#0000d0" stroke-width="0.9" />
<line x1="444.20" y1="220.00" x2="447.80" y2="220.00" stroke="#0000d0" stroke-width="0.9" />
<line x1="484.00" y1="215.00" x2="484.00" y2="227.50" stroke="#0000d0" stroke-width="0.9" />
<line x1="482.20" y1="215.00" x2="485.80" y2="215.00" stroke="#0000d0" stroke-width="0.9" />
<line x1="482.20" y1="227.50" x2="485.80" y2="227.50" stroke="#0000d0" stroke-width="0.9" />
<line x1="489.00" y1="209.00" x2="489.00" y2="222.00" stroke="#0000d0" stroke-width="0.9" />
<line x1="487.20" y1="209.00" x2="490.80" y2="209.00" stroke="#0000d0" stroke-width="0.9" />
<line x1="487.20" y1="222.00" x2="490.80" y2="222.00" stroke="#0000d0" stroke-width="0.9" />
<circle cx="429.40" cy="239.30" r="3.7" fill="#ff0000"/>
<circle cx="431.40" cy="235.30" r="3.7" fill="#ff0000"/>
<circle cx="433.70" cy="221.90" r="3.7" fill="#ff0000"/>
<circle cx="437.70" cy="216.70" r="3.7" fill="#ff0000"/>
<circle cx="442.90" cy="208.00" r="3.7" fill="#ff0000"/>
<circle cx="446.40" cy="199.90" r="3.7" fill="#ff0000"/>
<circle cx="450.30" cy="182.70" r="3.7" fill="#ff0000"/>
<circle cx="454.40" cy="164.10" r="3.7" fill="#ff0000"/>
<circle cx="458.70" cy="157.60" r="3.7" fill="#ff0000"/>
<circle cx="461.60" cy="153.80" r="3.7" fill="#ff0000"/>
<circle cx="465.60" cy="117.20" r="3.7" fill="#ff0000"/>
<circle cx="469.60" cy="118.20" r="3.7" fill="#ff0000"/>
<circle cx="473.60" cy="90.10" r="3.7" fill="#ff0000"/>
<circle cx="479.00" cy="96.70" r="3.7" fill="#ff0000"/>
<circle cx="484.10" cy="88.10" r="3.7" fill="#ff0000"/>
<circle cx="489.50" cy="78.70" r="3.7" fill="#ff0000"/>
<circle cx="494.10" cy="74.00" r="3.7" fill="#ff0000"/>
<circle cx="497.10" cy="80.00" r="3.7" fill="#ff0000"/>
<circle cx="498.10" cy="75.00" r="3.7" fill="#ff0000"/>
<circle cx="501.10" cy="70.00" r="3.7" fill="#ff0000"/>
<circle cx="503.30" cy="74.50" r="3.7" fill="#ff0000"/>
<circle cx="499.80" cy="78.20" r="3.7" fill="#ff0000"/>
<circle cx="506.50" cy="90.10" r="3.7" fill="#ff0000"/>
<circle cx="509.70" cy="86.70" r="3.7" fill="#ff0000"/>
<circle cx="512.10" cy="95.10" r="3.7" fill="#ff0000"/>
<circle cx="517.70" cy="107.10" r="3.7" fill="#ff0000"/>
<circle cx="520.60" cy="105.10" r="3.7" fill="#ff0000"/>
<circle cx="526.60" cy="114.80" r="3.7" fill="#ff0000"/>
<circle cx="523.80" cy="121.20" r="3.7" fill="#ff0000"/>
<circle cx="530.20" cy="126.80" r="3.7" fill="#ff0000"/>
<circle cx="533.60" cy="143.80" r="3.7" fill="#ff0000"/>
<circle cx="537.00" cy="157.30" r="3.7" fill="#ff0000"/>
<circle cx="543.70" cy="171.70" r="3.7" fill="#ff0000"/>
<circle cx="546.00" cy="189.40" r="3.7" fill="#ff0000"/>
<circle cx="549.30" cy="191.20" r="3.7" fill="#ff0000"/>
<circle cx="554.60" cy="206.70" r="3.7" fill="#ff0000"/>
<circle cx="556.70" cy="212.00" r="3.7" fill="#ff0000"/>
<circle cx="561.60" cy="221.40" r="3.7" fill="#ff0000"/>
<circle cx="566.10" cy="233.50" r="3.7" fill="#ff0000"/>
<circle cx="568.60" cy="242.70" r="3.7" fill="#ff0000"/>
<circle cx="574.10" cy="248.20" r="3.7" fill="#ff0000"/>
<circle cx="579.80" cy="249.60" r="3.7" fill="#ff0000"/>
<path d="M396.00,273.10 L399.60,279.10 L392.40,279.10 Z" fill="#0000d0"/>
<path d="M399.00,272.60 L402.60,278.60 L395.40,278.60 Z" fill="#0000d0"/>
<path d="M402.00,272.60 L405.60,278.60 L398.40,278.60 Z" fill="#0000d0"/>
<path d="M405.00,272.10 L408.60,278.10 L401.40,278.10 Z" fill="#0000d0"/>
<path d="M408.00,271.10 L411.60,277.10 L404.40,277.10 Z" fill="#0000d0"/>
<path d="M411.00,269.60 L414.60,275.60 L407.40,275.60 Z" fill="#0000d0"/>
<path d="M401.00,269.60 L404.60,275.60 L397.40,275.60 Z" fill="#0000d0"/>
<path d="M404.00,268.10 L407.60,274.10 L400.40,274.10 Z" fill="#0000d0"/>
<path d="M407.00,266.10 L410.60,272.10 L403.40,272.10 Z" fill="#0000d0"/>
<path d="M409.00,264.10 L412.60,270.10 L405.40,270.10 Z" fill="#0000d0"/>
<path d="M411.50,261.60 L415.10,267.60 L407.90,267.60 Z" fill="#0000d0"/>
<path d="M413.50,258.60 L417.10,264.60 L409.90,264.60 Z" fill="#0000d0"/>
<path d="M413.40,248.10 L417.00,254.10 L409.80,254.10 Z" fill="#0000d0"/>
<path d="M415.50,254.60 L419.10,260.60 L411.90,260.60 Z" fill="#0000d0"/>
<path d="M417.00,251.10 L420.60,257.10 L413.40,257.10 Z" fill="#0000d0"/>
<path d="M418.00,243.60 L421.60,249.60 L414.40,249.60 Z" fill="#0000d0"/>
<path d="M419.00,247.60 L422.60,253.60 L415.40,253.60 Z" fill="#0000d0"/>
<path d="M421.00,244.10 L424.60,250.10 L417.40,250.10 Z" fill="#0000d0"/>
<path d="M423.00,240.10 L426.60,246.10 L419.40,246.10 Z" fill="#0000d0"/>
<path d="M424.50,236.60 L428.10,242.60 L420.90,242.60 Z" fill="#0000d0"/>
<path d="M426.00,233.60 L429.60,239.60 L422.40,239.60 Z" fill="#0000d0"/>
<path d="M428.50,229.60 L432.10,235.60 L424.90,235.60 Z" fill="#0000d0"/>
<path d="M430.00,226.30 L433.60,232.30 L426.40,232.30 Z" fill="#0000d0"/>
<path d="M428.50,226.30 L432.10,232.30 L424.90,232.30 Z" fill="#0000d0"/>
<path d="M430.20,229.80 L433.80,235.80 L426.60,235.80 Z" fill="#0000d0"/>
<path d="M433.70,225.50 L437.30,231.50 L430.10,231.50 Z" fill="#0000d0"/>
<path d="M437.20,220.20 L440.80,226.20 L433.60,226.20 Z" fill="#0000d0"/>
<path d="M440.60,216.80 L444.20,222.80 L437.00,222.80 Z" fill="#0000d0"/>
<path d="M444.10,213.30 L447.70,219.30 L440.50,219.30 Z" fill="#0000d0"/>
<path d="M448.50,208.10 L452.10,214.10 L444.90,214.10 Z" fill="#0000d0"/>
<path d="M451.10,217.60 L454.70,223.60 L447.50,223.60 Z" fill="#0000d0"/>
<path d="M453.30,201.10 L456.90,207.10 L449.70,207.10 Z" fill="#0000d0"/>
<path d="M456.30,225.50 L459.90,231.50 L452.70,231.50 Z" fill="#0000d0"/>
<path d="M457.50,217.60 L461.10,223.60 L453.90,223.60 Z" fill="#0000d0"/>
<path d="M459.70,210.70 L463.30,216.70 L456.10,216.70 Z" fill="#0000d0"/>
<path d="M461.90,210.80 L465.50,216.80 L458.30,216.80 Z" fill="#0000d0"/>
<path d="M464.10,189.30 L467.70,195.30 L460.50,195.30 Z" fill="#0000d0"/>
<path d="M466.50,213.60 L470.10,219.60 L462.90,219.60 Z" fill="#0000d0"/>
<path d="M468.40,199.20 L472.00,205.20 L464.80,205.20 Z" fill="#0000d0"/>
<path d="M473.10,203.00 L476.70,209.00 L469.50,209.00 Z" fill="#0000d0"/>
<path d="M479.60,200.00 L483.20,206.00 L476.00,206.00 Z" fill="#0000d0"/>
<path d="M482.10,188.40 L485.70,194.40 L478.50,194.40 Z" fill="#0000d0"/>
<path d="M483.90,217.90 L487.50,223.90 L480.30,223.90 Z" fill="#0000d0"/>
<path d="M486.20,205.60 L489.80,211.60 L482.60,211.60 Z" fill="#0000d0"/>
<path d="M488.00,209.90 L491.60,215.90 L484.40,215.90 Z" fill="#0000d0"/>
<path d="M490.30,212.30 L493.90,218.30 L486.70,218.30 Z" fill="#0000d0"/>
<path d="M492.70,205.60 L496.30,211.60 L489.10,211.60 Z" fill="#0000d0"/>
<path d="M495.50,190.20 L499.10,196.20 L491.90,196.20 Z" fill="#0000d0"/>
<path d="M497.40,205.60 L501.00,211.60 L493.80,211.60 Z" fill="#0000d0"/>
<path d="M499.30,196.80 L502.90,202.80 L495.70,202.80 Z" fill="#0000d0"/>
<path d="M503.90,193.00 L507.50,199.00 L500.30,199.00 Z" fill="#0000d0"/>
<path d="M505.80,197.60 L509.40,203.60 L502.20,203.60 Z" fill="#0000d0"/>
<path d="M510.10,184.60 L513.70,190.60 L506.50,190.60 Z" fill="#0000d0"/>
<path d="M512.00,195.90 L515.60,201.90 L508.40,201.90 Z" fill="#0000d0"/>
<path d="M514.20,209.90 L517.80,215.90 L510.60,215.90 Z" fill="#0000d0"/>
<path d="M572.30,239.80 L575.90,245.80 L568.70,245.80 Z" fill="#0000d0"/>
<path d="M577.00,241.10 L580.60,247.10 L573.40,247.10 Z" fill="#0000d0"/>
<path d="M573.00,248.60 L576.60,254.60 L569.40,254.60 Z" fill="#0000d0"/>
<path d="M574.00,254.60 L577.60,260.60 L570.40,260.60 Z" fill="#0000d0"/>
<path d="M577.00,258.60 L580.60,264.60 L573.40,264.60 Z" fill="#0000d0"/>
<path d="M578.00,262.60 L581.60,268.60 L574.40,268.60 Z" fill="#0000d0"/>
<path d="M581.00,264.60 L584.60,270.60 L577.40,270.60 Z" fill="#0000d0"/>
<path d="M584.00,267.60 L587.60,273.60 L580.40,273.60 Z" fill="#0000d0"/>
<path d="M587.00,270.10 L590.60,276.10 L583.40,276.10 Z" fill="#0000d0"/>
<path d="M590.00,272.10 L593.60,278.10 L586.40,278.10 Z" fill="#0000d0"/>
<path d="M593.00,273.10 L596.60,279.10 L589.40,279.10 Z" fill="#0000d0"/>
<path d="M583.00,271.60 L586.60,277.60 L579.40,277.60 Z" fill="#0000d0"/>
<path d="M580.00,268.60 L583.60,274.60 L576.40,274.60 Z" fill="#0000d0"/>
<rect x="395.80" y="267.80" width="4.4" height="4.4" fill="#0b800b"/>
<rect x="397.20" y="263.40" width="4.4" height="4.4" fill="#0b800b"/>
<rect x="399.00" y="261.00" width="4.4" height="4.4" fill="#0b800b"/>
<rect x="403.30" y="256.30" width="4.4" height="4.4" fill="#0b800b"/>
<rect x="405.10" y="254.00" width="4.4" height="4.4" fill="#0b800b"/>
<rect x="408.40" y="257.80" width="4.4" height="4.4" fill="#0b800b"/>
<rect x="410.30" y="254.80" width="4.4" height="4.4" fill="#0b800b"/>
<rect x="412.10" y="253.10" width="4.4" height="4.4" fill="#0b800b"/>
<rect x="414.40" y="250.10" width="4.4" height="4.4" fill="#0b800b"/>
<rect x="415.80" y="250.30" width="4.4" height="4.4" fill="#0b800b"/>
<rect x="418.50" y="247.50" width="4.4" height="4.4" fill="#0b800b"/>
<rect x="419.60" y="247.50" width="4.4" height="4.4" fill="#0b800b"/>
<rect x="422.00" y="245.80" width="4.4" height="4.4" fill="#0b800b"/>
<rect x="424.50" y="246.80" width="4.4" height="4.4" fill="#0b800b"/>
<rect x="426.30" y="244.90" width="4.4" height="4.4" fill="#0b800b"/>
<rect x="429.30" y="245.50" width="4.4" height="4.4" fill="#0b800b"/>
<rect x="430.60" y="245.20" width="4.4" height="4.4" fill="#0b800b"/>
<rect x="434.10" y="246.80" width="4.4" height="4.4" fill="#0b800b"/>
<rect x="435.80" y="244.90" width="4.4" height="4.4" fill="#0b800b"/>
<rect x="438.90" y="246.00" width="4.4" height="4.4" fill="#0b800b"/>
<rect x="440.20" y="246.60" width="4.4" height="4.4" fill="#0b800b"/>
<rect x="443.80" y="250.40" width="4.4" height="4.4" fill="#0b800b"/>
<rect x="448.60" y="249.80" width="4.4" height="4.4" fill="#0b800b"/>
<rect x="448.90" y="249.20" width="4.4" height="4.4" fill="#0b800b"/>
<rect x="453.20" y="248.40" width="4.4" height="4.4" fill="#0b800b"/>
<rect x="453.40" y="250.80" width="4.4" height="4.4" fill="#0b800b"/>
<rect x="457.50" y="247.50" width="4.4" height="4.4" fill="#0b800b"/>
<rect x="459.70" y="246.40" width="4.4" height="4.4" fill="#0b800b"/>
<rect x="462.20" y="250.30" width="4.4" height="4.4" fill="#0b800b"/>
<rect x="464.10" y="245.90" width="4.4" height="4.4" fill="#0b800b"/>
<rect x="467.00" y="247.80" width="4.4" height="4.4" fill="#0b800b"/>
<rect x="470.90" y="248.80" width="4.4" height="4.4" fill="#0b800b"/>
<rect x="477.70" y="245.40" width="4.4" height="4.4" fill="#0b800b"/>
<rect x="480.60" y="246.40" width="4.4" height="4.4" fill="#0b800b"/>
<rect x="484.00" y="247.40" width="4.4" height="4.4" fill="#0b800b"/>
<rect x="486.40" y="243.50" width="4.4" height="4.4" fill="#0b800b"/>
<rect x="488.40" y="247.40" width="4.4" height="4.4" fill="#0b800b"/>
<rect x="490.80" y="244.00" width="4.4" height="4.4" fill="#0b800b"/>
<rect x="493.20" y="246.90" width="4.4" height="4.4" fill="#0b800b"/>
<rect x="496.60" y="244.00" width="4.4" height="4.4" fill="#0b800b"/>
<rect x="501.50" y="246.40" width="4.4" height="4.4" fill="#0b800b"/>
<rect x="503.90" y="241.10" width="4.4" height="4.4" fill="#0b800b"/>
<rect x="507.80" y="241.50" width="4.4" height="4.4" fill="#0b800b"/>
<rect x="509.30" y="245.90" width="4.4" height="4.4" fill="#0b800b"/>
<rect x="512.20" y="247.40" width="4.4" height="4.4" fill="#0b800b"/>
<rect x="570.80" y="247.80" width="4.4" height="4.4" fill="#0b800b"/>
<rect x="574.80" y="247.80" width="4.4" height="4.4" fill="#0b800b"/>
<rect x="578.80" y="249.30" width="4.4" height="4.4" fill="#0b800b"/>
<rect x="572.80" y="251.80" width="4.4" height="4.4" fill="#0b800b"/>
<rect x="576.80" y="252.80" width="4.4" height="4.4" fill="#0b800b"/>
<rect x="580.80" y="253.80" width="4.4" height="4.4" fill="#0b800b"/>
<rect x="573.80" y="255.80" width="4.4" height="4.4" fill="#0b800b"/>
<rect x="577.80" y="257.30" width="4.4" height="4.4" fill="#0b800b"/>
<rect x="581.80" y="257.80" width="4.4" height="4.4" fill="#0b800b"/>
<rect x="575.80" y="259.80" width="4.4" height="4.4" fill="#0b800b"/>
<rect x="579.80" y="261.30" width="4.4" height="4.4" fill="#0b800b"/>
<rect x="583.80" y="261.80" width="4.4" height="4.4" fill="#0b800b"/>
<rect x="581.80" y="264.80" width="4.4" height="4.4" fill="#0b800b"/>
<rect x="585.80" y="265.80" width="4.4" height="4.4" fill="#0b800b"/>
<rect x="583.80" y="268.30" width="4.4" height="4.4" fill="#0b800b"/>
<rect x="587.80" y="268.80" width="4.4" height="4.4" fill="#0b800b"/>
<rect x="586.80" y="263.80" width="4.4" height="4.4" fill="#0b800b"/>
<rect x="387.60" y="53.80" width="220.20" height="221.10" fill="none" stroke="#000" stroke-width="1.2"/>
<line x1="387.60" y1="274.90" x2="392.40" y2="274.90" stroke="#000" stroke-width="1.0" />
<line x1="607.80" y1="274.90" x2="603.00" y2="274.90" stroke="#000" stroke-width="1.0" />
<line x1="387.60" y1="254.80" x2="390.40" y2="254.80" stroke="#000" stroke-width="1.0" />
<line x1="607.80" y1="254.80" x2="605.00" y2="254.80" stroke="#000" stroke-width="1.0" />
<line x1="387.60" y1="234.70" x2="392.40" y2="234.70" stroke="#000" stroke-width="1.0" />
<line x1="607.80" y1="234.70" x2="603.00" y2="234.70" stroke="#000" stroke-width="1.0" />
<line x1="387.60" y1="214.60" x2="390.40" y2="214.60" stroke="#000" stroke-width="1.0" />
<line x1="607.80" y1="214.60" x2="605.00" y2="214.60" stroke="#000" stroke-width="1.0" />
<line x1="387.60" y1="194.50" x2="392.40" y2="194.50" stroke="#000" stroke-width="1.0" />
<line x1="607.80" y1="194.50" x2="603.00" y2="194.50" stroke="#000" stroke-width="1.0" />
<line x1="387.60" y1="174.40" x2="390.40" y2="174.40" stroke="#000" stroke-width="1.0" />
<line x1="607.80" y1="174.40" x2="605.00" y2="174.40" stroke="#000" stroke-width="1.0" />
<line x1="387.60" y1="154.30" x2="392.40" y2="154.30" stroke="#000" stroke-width="1.0" />
<line x1="607.80" y1="154.30" x2="603.00" y2="154.30" stroke="#000" stroke-width="1.0" />
<line x1="387.60" y1="134.20" x2="390.40" y2="134.20" stroke="#000" stroke-width="1.0" />
<line x1="607.80" y1="134.20" x2="605.00" y2="134.20" stroke="#000" stroke-width="1.0" />
<line x1="387.60" y1="114.10" x2="392.40" y2="114.10" stroke="#000" stroke-width="1.0" />
<line x1="607.80" y1="114.10" x2="603.00" y2="114.10" stroke="#000" stroke-width="1.0" />
<line x1="387.60" y1="94.00" x2="390.40" y2="94.00" stroke="#000" stroke-width="1.0" />
<line x1="607.80" y1="94.00" x2="605.00" y2="94.00" stroke="#000" stroke-width="1.0" />
<line x1="387.60" y1="73.90" x2="392.40" y2="73.90" stroke="#000" stroke-width="1.0" />
<line x1="607.80" y1="73.90" x2="603.00" y2="73.90" stroke="#000" stroke-width="1.0" />
<line x1="387.60" y1="53.80" x2="390.40" y2="53.80" stroke="#000" stroke-width="1.0" />
<line x1="607.80" y1="53.80" x2="605.00" y2="53.80" stroke="#000" stroke-width="1.0" />
<line x1="387.60" y1="274.90" x2="387.60" y2="270.10" stroke="#000" stroke-width="1.0" />
<line x1="387.60" y1="53.80" x2="387.60" y2="58.60" stroke="#000" stroke-width="1.0" />
<line x1="415.12" y1="274.90" x2="415.12" y2="272.10" stroke="#000" stroke-width="1.0" />
<line x1="415.12" y1="53.80" x2="415.12" y2="56.60" stroke="#000" stroke-width="1.0" />
<line x1="442.65" y1="274.90" x2="442.65" y2="270.10" stroke="#000" stroke-width="1.0" />
<line x1="442.65" y1="53.80" x2="442.65" y2="58.60" stroke="#000" stroke-width="1.0" />
<line x1="470.18" y1="274.90" x2="470.18" y2="272.10" stroke="#000" stroke-width="1.0" />
<line x1="470.18" y1="53.80" x2="470.18" y2="56.60" stroke="#000" stroke-width="1.0" />
<line x1="497.70" y1="274.90" x2="497.70" y2="270.10" stroke="#000" stroke-width="1.0" />
<line x1="497.70" y1="53.80" x2="497.70" y2="58.60" stroke="#000" stroke-width="1.0" />
<line x1="525.22" y1="274.90" x2="525.22" y2="272.10" stroke="#000" stroke-width="1.0" />
<line x1="525.22" y1="53.80" x2="525.22" y2="56.60" stroke="#000" stroke-width="1.0" />
<line x1="552.75" y1="274.90" x2="552.75" y2="270.10" stroke="#000" stroke-width="1.0" />
<line x1="552.75" y1="53.80" x2="552.75" y2="58.60" stroke="#000" stroke-width="1.0" />
<line x1="580.27" y1="274.90" x2="580.27" y2="272.10" stroke="#000" stroke-width="1.0" />
<line x1="580.27" y1="53.80" x2="580.27" y2="56.60" stroke="#000" stroke-width="1.0" />
<line x1="607.80" y1="274.90" x2="607.80" y2="270.10" stroke="#000" stroke-width="1.0" />
<line x1="607.80" y1="53.80" x2="607.80" y2="58.60" stroke="#000" stroke-width="1.0" />
<text x="380.60" y="278.20" font-size="13.7" text-anchor="end" >0</text>
<text x="380.60" y="238.00" font-size="13.7" text-anchor="end" >2</text>
<text x="380.60" y="197.80" font-size="13.7" text-anchor="end" >4</text>
<text x="380.60" y="157.60" font-size="13.7" text-anchor="end" >6</text>
<text x="380.60" y="117.40" font-size="13.7" text-anchor="end" >8</text>
<text x="380.60" y="77.20" font-size="13.7" text-anchor="end" >10</text>
<text x="387.60" y="289.00" font-size="13.7" text-anchor="middle" >-0.8</text>
<text x="442.65" y="289.00" font-size="13.7" text-anchor="middle" >-0.4</text>
<text x="497.70" y="289.00" font-size="13.7" text-anchor="middle" >0</text>
<text x="552.75" y="289.00" font-size="13.7" text-anchor="middle" >0.4</text>
<text x="607.80" y="289.00" font-size="13.7" text-anchor="middle" >0.8</text>
<text x="497.5" y="313.8" font-size="14" text-anchor="middle"><tspan font-style="italic">r</tspan><tspan dy="7.8" font-size="10">eff</tspan><tspan dy="-7.8"> [m]</tspan></text>
<g transform="rotate(-90)" font-size="14.4"><text x="-244.0" y="342.3"><tspan font-style="italic">T</tspan><tspan dy="7.0" font-size="9.4">i</tspan><tspan dy="-7.0">,</tspan></text><text x="-225.5" y="342.3"><tspan font-style="italic">T</tspan><tspan dy="7.4" font-size="9.4">e</tspan></text><text x="-206.8" y="342.3" font-size="14.3">[keV],</text><text x="-166.5" y="342.3"><tspan font-style="italic">n</tspan><tspan dy="7.4" font-size="9.4">e</tspan></text><text x="-147.7" y="342.3">[x10<tspan dx="0.3" dy="-6.5" font-size="10">19</tspan><tspan dx="0.4" dy="6.5">m</tspan><tspan dx="0.3" dy="-6.5" font-size="10">-3</tspan><tspan dx="0.4" dy="6.5">]</tspan></text></g>
<text x="406.20" y="81.50" font-size="12" text-anchor="start" >(g)</text>
<text x="600.5" y="80.7" font-size="11" text-anchor="end"><tspan font-style="italic">R</tspan><tspan dy="4" font-size="7.8">ax</tspan><tspan dy="-4"> = 3.58 m,</tspan></text>
<text x="596.5" y="98.9" font-size="11" text-anchor="end"><tspan font-style="italic">B</tspan><tspan dy="4" font-size="7.8" font-style="italic">t</tspan><tspan dy="-4"> = 2.87 T</tspan></text>
<text x="600.9" y="112.5" font-size="11" text-anchor="end">(CCW),</text>
<text x="596.5" y="132" font-size="11" text-anchor="end"><tspan font-style="italic">t</tspan> = 4.85 s</text>
<text x="445.3" y="109.2" font-size="15.5" fill="#ff0000"><tspan font-style="italic">T</tspan><tspan dx="-1.6" dy="7.8" font-size="9.5">i</tspan></text>
<text x="479.2" y="171.2" font-size="15.5" fill="#0000d0"><tspan font-style="italic">T</tspan><tspan dx="-1.6" dy="7.8" font-size="9">e</tspan></text>
<text x="521.8" y="237.6" font-size="15" fill="#0b800b"><tspan font-style="italic">n</tspan><tspan dy="8" font-size="9.2">e</tspan></text>
</svg></body></html>
